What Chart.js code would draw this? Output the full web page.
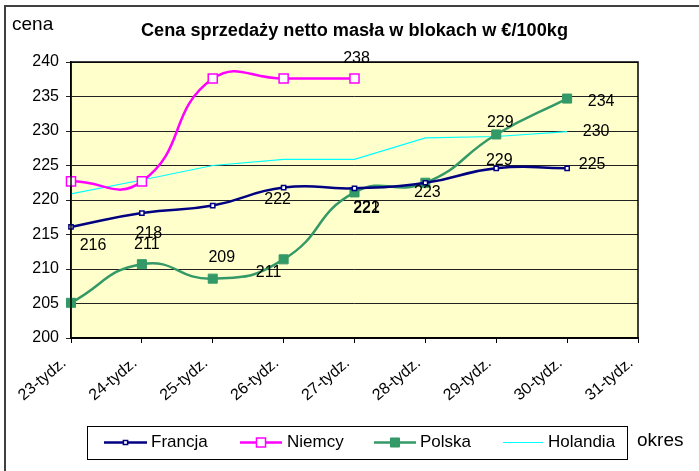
<!DOCTYPE html>
<html>
<head>
<meta charset="utf-8">
<script src="https://cdn.jsdelivr.net/npm/chart.js@4.4.0/dist/chart.umd.min.js"></script>
<style>
  body { margin: 0; background: #fff; overflow: hidden; }
  canvas { display: block; }
</style>
</head>
<body>
<canvas id="myChart" width="699" height="471"></canvas>
<script>
// data
const weeks = ['23-tydz.', '24-tydz.', '25-tydz.', '26-tydz.', '27-tydz.', '28-tydz.', '29-tydz.', '30-tydz.', '31-tydz.'];
const francja  = [216.1, 218.1, 219.2, 221.8, 221.7, 222.5, 224.6, 224.6, null];
const niemcy   = [222.7, 222.7, 237.6, 237.6, 237.6, null, null, null, null];
const polska   = [205.1, 210.7, 208.6, 211.4, 221.1, 222.5, 229.5, 234.7, null];
const holandia = [220.9, 222.9, 225.0, 225.9, 225.9, 229.0, 229.2, 229.9, null];

// value labels as they are printed on the chart
const francjaLabels  = ['216', '218', '', '222', '222', '', '229', '225', ''];
const niemcyLabels   = ['', '', '', '', '238', '', '', '', ''];
const polskaLabels   = ['', '211', '209', '211', '221', '223', '229', '234', ''];
const holandiaLabels = ['', '', '', '', '', '', '', '230', ''];

const yMin = 200, yMax = 240, yStep = 5;

const FONT = '"Liberation Sans", Arial, sans-serif';

const ctx = document.getElementById('myChart').getContext('2d');

// background, frame, title, axis names, legend box and value labels
const decor = {
    id: 'decor',
    beforeDraw(chart) {
        const c = chart.ctx;
        const a = chart.chartArea;
        c.save();
        c.fillStyle = '#FFFFCC';
        c.fillRect(a.left, a.top, a.right - a.left, a.bottom - a.top);
        c.restore();
    },
    afterDatasetsDraw(chart) {
        const c = chart.ctx;
        c.save();
        c.font = '16px ' + FONT;
        c.fillStyle = '#000';
        c.textAlign = 'center';
        c.textBaseline = 'middle';
        chart.data.datasets.forEach((ds, i) => {
            const meta = chart.getDatasetMeta(i);
            ds.valueLabels.forEach((txt, j) => {
                if (!txt) return;
                const p = meta.data[j];
                const off = ds.labelOffsets[j] || [0, 0];
                c.fillText(txt, p.x + off[0], p.y + off[1]);
            });
        });
        c.restore();
    },
    afterDraw(chart) {
        const c = chart.ctx;
        const a = chart.chartArea;
        c.save();
        // plot frame
        c.strokeStyle = '#000';
        c.lineWidth = 1.5;
        c.strokeRect(a.left, a.top, a.right - a.left, a.bottom - a.top);
        // outer frame (only left and top edges are inside the picture)
        c.strokeStyle = '#404040';
        c.lineWidth = 2;
        c.beginPath();
        c.moveTo(5, 471);
        c.lineTo(5, 6);
        c.lineTo(699, 6);
        c.stroke();

        // title, stretched to the width seen in the picture
        c.fillStyle = '#000';
        c.textBaseline = 'alphabetic';
        c.font = 'bold 18px ' + FONT;
        const title = 'Cena sprzedaży netto masła w blokach w €/100kg';
        const w = c.measureText(title).width;
        c.save();
        c.translate(141, 36);
        c.scale(427 / w, 1);
        c.fillText(title, 0, 0);
        c.restore();

        c.font = '19px ' + FONT;
        c.fillText('cena', 12, 30);
        c.fillText('okres', 637, 446);

        // legend
        c.strokeStyle = '#000';
        c.lineWidth = 1;
        c.strokeRect(87.5, 426.5, 540, 33);
        const items = [[104, 147, 151], [240, 282, 287], [374, 416, 420], [503, 543, 548]];
        c.font = '17px ' + FONT;
        c.textBaseline = 'middle';
        chart.data.datasets.forEach((ds, i) => {
            const [x1, x2, tx] = items[i];
            const y = 442.5;
            c.strokeStyle = ds.borderColor;
            c.lineWidth = ds.borderWidth;
            c.beginPath();
            c.moveTo(x1, y);
            c.lineTo(x2, y);
            c.stroke();
            if (ds.pointRadius > 0) {
                c.fillStyle = ds.pointBackgroundColor;
                c.strokeStyle = ds.borderColor;
                c.lineWidth = ds.pointBorderWidth;
                Chart.helpers.drawPoint(c, {pointStyle: 'rect', radius: ds.pointRadius, borderWidth: ds.pointBorderWidth}, (x1 + x2) / 2, y);
            }
            c.fillStyle = '#000';
            c.fillText(ds.label, tx, y);
        });
        c.restore();
    }
};

const myChart = new Chart(ctx, {
    type: 'line',
    data: {
        labels: weeks,
        datasets: [{
            label: 'Francja',
            data: francja,
            valueLabels: francjaLabels,
            labelOffsets: [[22, 19], [7, 20], null, [-6, 12], [12, 20], null, [3, -8], [25, -4]],
            borderColor: '#000080',
            borderWidth: 2.5,
            tension: 0.5,
            pointStyle: 'rect',
            pointRadius: 3,
            pointBorderWidth: 1.5,
            pointBackgroundColor: '#FFFFFF'
        }, {
            label: 'Niemcy',
            data: niemcy,
            valueLabels: niemcyLabels,
            labelOffsets: [null, null, null, null, [2, -20]],
            borderColor: '#FF00FF',
            borderWidth: 2.5,
            tension: 0.5,
            pointStyle: 'rect',
            pointRadius: 6.4,
            pointBorderWidth: 1.5,
            pointBackgroundColor: '#FFFFFF'
        }, {
            label: 'Polska',
            data: polska,
            valueLabels: polskaLabels,
            labelOffsets: [null, [5, -20], [9, -21], [-15, 13], [12, 15], [2, 10], [4, -12], [34, 3]],
            borderColor: '#339966',
            borderWidth: 2.5,
            tension: 0.5,
            pointStyle: 'rect',
            pointRadius: 6.4,
            pointBorderWidth: 1,
            pointBackgroundColor: '#339966'
        }, {
            label: 'Holandia',
            data: holandia,
            valueLabels: holandiaLabels,
            labelOffsets: [null, null, null, null, null, null, null, [29, 0]],
            borderColor: '#00FFFF',
            borderWidth: 1.2,
            tension: 0,
            pointRadius: 0
        }]
    },
    options: {
        responsive: false,
        animation: false,
        layout: {
            padding: {top: 62, right: 61, left: 0, bottom: 0}
        },
        plugins: {
            legend: {display: false},
            tooltip: {enabled: false}
        },
        scales: {
            x: {
                offset: false,
                grid: {display: true, drawOnChartArea: false, drawTicks: true, tickLength: 5, color: '#000', offset: false},
                border: {color: '#000', width: 1.5},
                ticks: {
                    autoSkip: false,
                    minRotation: 40,
                    maxRotation: 40,
                    padding: 5,
                    color: '#000',
                    font: {family: FONT, size: 16},
                    // trailing gap keeps the text clear of the tick, as in the picture
                    callback(value) { return this.getLabelForValue(value) + '  '; }
                },
                afterFit(scale) { scale.height = 133; }
            },
            y: {
                min: yMin,
                max: yMax,
                grid: {color: '#222', lineWidth: 1, tickLength: 5},
                border: {color: '#000', width: 1.5},
                ticks: {
                    stepSize: yStep,
                    padding: 7,
                    color: '#000',
                    font: {family: FONT, size: 16}
                },
                afterFit(scale) { scale.width = 71; }
            }
        }
    },
    plugins: [decor]
});
</script>
</body>
</html>
